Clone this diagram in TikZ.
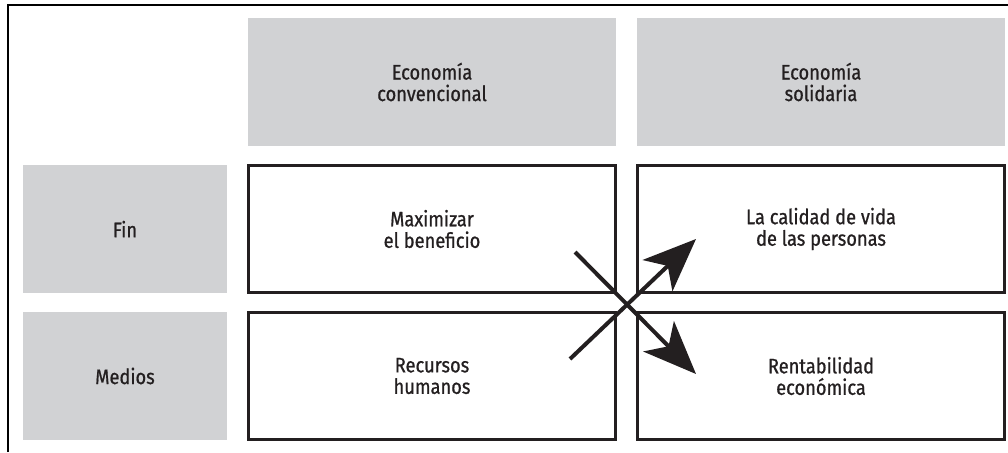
\documentclass[tikz,border=0pt]{standalone}
\usepackage{fontspec}
\setmainfont{Fira Sans}[FakeStretch=0.87,FakeBold=0.8]
\usetikzlibrary{arrows.meta}
\usetikzlibrary{positioning}
\definecolor{cellgray}{HTML}{D1D2D4}
\definecolor{ink}{HTML}{231F20}

\begin{document}
\begin{tikzpicture}[x=1pt,y=-1pt,on grid,
   every node/.style={text=ink,align=center,font=\fontsize{21}{21.5}\selectfont},
   head/.style={fill=cellgray,minimum width=368pt,minimum height=128pt},
   side/.style={fill=cellgray,minimum width=204pt,minimum height=128pt},
   cell/.style={draw=ink,line width=3.2pt,minimum width=367pt,minimum height=127pt},
   bigarrow/.style={draw=ink,line width=4pt,-{Stealth[length=53pt,width=43pt,inset=14pt]}}]
   \useasboundingbox (0,0) rectangle (1008,452);
   % frame
   \draw[line width=2pt] (7.5,452) -- (7.5,5.5) -- (1008,5.5);
   % headers
   \node[head] (conv)  at (432,82) {Economía\\convencional};
   \node[head] (solid) [right=389pt of conv] {Economía\\solidaria};
   % cells
   \node[cell] (fin1) [below=147pt of conv]  {Maximizar\\el beneficio};
   \node[cell] (fin2) [below=147pt of solid] {La calidad de vida\\de las personas};
   \node[cell] (med1) [below=147pt of fin1]  {Recursos\\humanos};
   \node[cell] (med2) [below=147pt of fin2]  {Rentabilidad\\económica};
   % row labels
   \node[side] (fin) [left=307pt of fin1] {Fin};
   \node[side] (med) [left=307pt of med1] {Medios};
   % arrows
   \coordinate (from1) at (575,252);
   \coordinate (to1)   at (696,374);
   \coordinate (from2) at (570,359);
   \coordinate (to2)   at (696,239);
   \draw[bigarrow] (from1) -- (to1);
   \draw[bigarrow] (from2) -- (to2);
\end{tikzpicture}
\end{document}
